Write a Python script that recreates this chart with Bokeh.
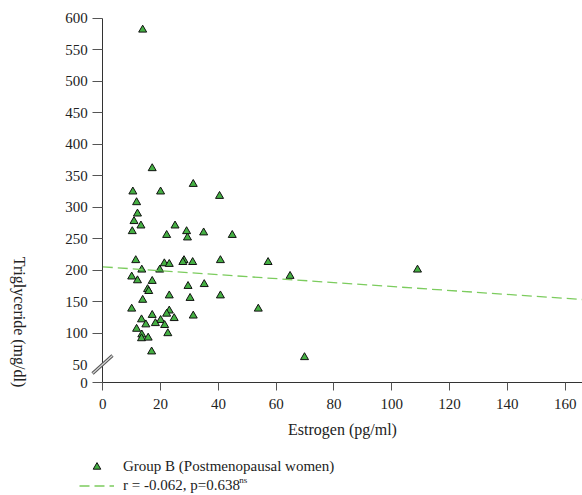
import math
from bokeh.plotting import figure
from bokeh.models import (ColumnDataSource, FixedTicker, Label, Legend, LegendItem,
                          Range1d, Arrow)
from bokeh.embed import file_html
from bokeh.resources import INLINE

# ---- data ----
estrogen = [17.1, 31.3, 10.4, 20.0, 40.4, 11.7, 12.0, 10.8, 13.2, 25.0,
            10.2, 22.1, 29.0, 29.3, 34.9, 44.8, 11.4, 21.3, 23.0, 28.1,
            27.7, 31.1, 40.7, 13.5, 19.7, 10.0, 12.0, 17.1, 29.5, 35.1,
            15.5, 15.9, 23.0, 30.2, 40.7, 13.8, 10.0, 17.1, 23.0, 22.1,
            31.3, 13.4, 20.0, 24.7, 14.9, 18.2, 21.4, 11.7, 13.5, 22.5,
            13.4, 15.7, 16.9, 13.8, 57.2, 64.8, 53.8, 69.8, 108.9]
triglyceride = [362, 337, 325, 325, 318, 308, 290, 278, 271, 271,
                262, 256, 262, 252, 260, 256, 216, 211, 210, 216,
                213, 213, 216, 201, 201, 190, 184, 183, 175, 178,
                170, 167, 160, 156, 160, 153, 139, 129, 136, 131,
                128, 122, 121, 124, 114, 116, 113, 107, 98, 100,
                92, 93, 71, 582, 213, 191, 139, 62, 201]

# regression line endpoints (r = -0.062)
reg_x = [0, 166]
reg_y = [205.7, 153.7]

Y_BREAK_BASE = 22          # where the (broken) y axis shows "0"
y_ticks = [Y_BREAK_BASE, 100, 150, 200, 250, 300, 350, 400, 450, 500, 550, 600]
x_ticks = [0, 20, 40, 60, 80, 100, 120, 140, 160]

series_label = "Group B (Postmenopausal women)"
reg_label = "r = -0.062, p=0.638"
x_title = "Estrogen (pg/ml)"
y_title = "Triglyceride (mg/dl)"

FONT = "Liberation Serif"
TXT = "#222222"

p = figure(width=582, height=495, output_backend="svg", toolbar_location=None,
           x_range=Range1d(-35.4, 166), y_range=Range1d(-157.4, 628.5),
           min_border=0, x_axis_location="below", y_axis_location="left")
p.outline_line_color = None
p.xgrid.grid_line_color = None
p.ygrid.grid_line_color = None
p.background_fill_color = "white"
p.border_fill_color = "white"

for ax in (p.xaxis[0], p.yaxis[0]):
    ax.axis_line_color = "#333333"
    ax.major_tick_line_color = "#555555"
    ax.minor_tick_line_color = None
    ax.major_label_text_font = FONT
    ax.major_label_text_font_size = "15px"
    ax.major_label_text_color = TXT

xa = p.xaxis[0]
xa.fixed_location = Y_BREAK_BASE
xa.bounds = (0, 166)
xa.ticker = FixedTicker(ticks=x_ticks)
xa.major_tick_in = 0
xa.major_tick_out = 8
xa.major_label_standoff = 8
xa.axis_label = x_title
xa.axis_label_text_font = FONT
xa.axis_label_text_font_style = "normal"
xa.axis_label_text_font_size = "16px"
xa.axis_label_text_color = TXT
xa.axis_label_standoff = 9

ya = p.yaxis[0]
ya.fixed_location = 0
ya.bounds = (Y_BREAK_BASE, 600)
ya.ticker = FixedTicker(ticks=y_ticks)
ya.major_label_overrides = {Y_BREAK_BASE: "0"}
ya.major_tick_in = 0
ya.major_tick_out = 10
ya.major_label_standoff = 5

src = ColumnDataSource(dict(x=estrogen, y=triglyceride))
sc = p.scatter("x", "y", source=src, marker="triangle", size=8,
               fill_color="#45b043", line_color="#111111", line_width=1)
rl = p.line(reg_x, reg_y, line_color="#7ccc5e", line_width=1.3, line_dash="10 5")

# axis break mark
for w, c in ((3.2, "#555555"), (1.1, "#d8d8d8")):
    p.add_layout(Arrow(start=None, end=None, x_start=-3.56, y_start=36.3,
                       x_end=3.35, y_end=64.9, line_width=w, line_color=c))

# "50" tick label beside the break
p.add_layout(Label(x=-5.3, y=50, text="50", text_font=FONT, text_font_size="15px",
                   text_color=TXT, text_align="right", text_baseline="middle"))

# y axis title, reading top to bottom
p.add_layout(Label(x=-28.8, y=118, text=y_title, angle=-math.pi / 2,
                   text_font=FONT, text_font_size="16px", text_color=TXT,
                   text_align="center", text_baseline="middle"))

legend = Legend(items=[LegendItem(label=series_label, renderers=[sc]),
                       LegendItem(label=reg_label, renderers=[rl])],
                location=(79, 0), orientation="vertical",
                padding=0, margin=0, spacing=0, glyph_width=35, glyph_height=19,
                label_height=19, label_standoff=9, border_line_color=None,
                background_fill_alpha=0, label_text_font=FONT,
                label_text_font_size="15px", label_text_color=TXT)
p.add_layout(legend)

# superscript "ns"
p.add_layout(Label(x=47.2, y=-132, text="ns", text_font=FONT, text_font_size="9px",
                   text_color=TXT, text_align="left", text_baseline="middle"))

open("out.html", "w").write(file_html(p, INLINE))
